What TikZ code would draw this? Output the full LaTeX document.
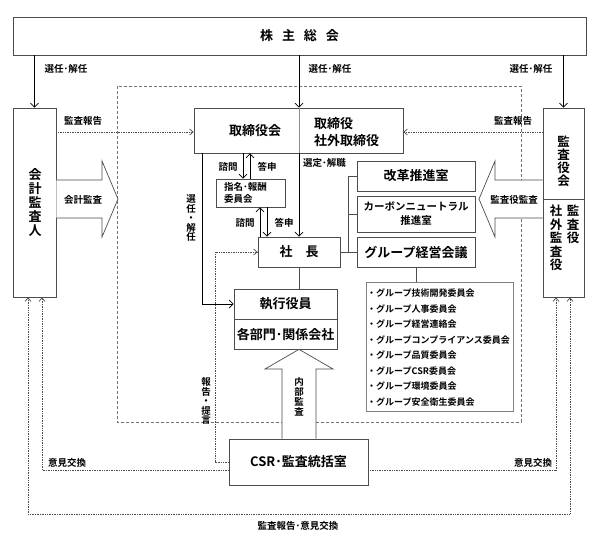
\documentclass[tikz,border=0pt]{standalone}
\usepackage{fontspec}
\setmainfont{Noto Sans CJK JP}[BoldFont={* Bold}]
\usetikzlibrary{arrows.meta}
\begin{document}
\begin{tikzpicture}[x=1pt,y=-1pt,
  box/.style={draw=black!70, line width=0.7pt, fill=white, inner sep=0pt, font=\fontsize{13}{15}\selectfont\bfseries},
  txt/.style={inner sep=0pt, font=\fontsize{13}{17}\selectfont\bfseries},
  lbl/.style={inner sep=0pt, font=\fontsize{9.5}{11}\selectfont\bfseries},
  vlbl/.style={inner sep=0pt, align=center, font=\fontsize{9.5}{9.5}\selectfont\bfseries},
  vt/.style={inner sep=0pt, align=center, font=\fontsize{13}{14}\selectfont\bfseries},
  conn/.style={draw=black!70, line width=0.7pt},
  arr/.style={line width=0.8pt, -{Straight Barb[length=4pt,width=8pt]}},
  dotarr/.style={densely dotted, line width=0.7pt, draw=black!70, -{Straight Barb[length=3.5pt,width=6pt]}},
  dotline/.style={densely dotted, line width=0.7pt, draw=black!70},
  bigarrow/.style={draw=black!70, line width=0.7pt, fill=white}
]
\useasboundingbox (0,0) rectangle (596,545);

% dashed frame
\draw[black!55, line width=0.7pt, dash pattern=on 3pt off 2pt] (117,86) rectangle (521,422);

% coordinates
\coordinate (stem) at (299,0);
\coordinate (cA) at (243,0);
\coordinate (cB) at (250,0);
\coordinate (cC) at (260,0);
\coordinate (cD) at (267,0);
\coordinate (c202) at (202,0);
\coordinate (br) at (348,0);
\coordinate (c132) at (0,132);
\coordinate (hb) at (215,462);
\coordinate (iBL) at (42,470);
\coordinate (iBR) at (556,470);
\coordinate (oBL) at (28,514);
\coordinate (oBR) at (570,514);

% nodes
\node[box, minimum width=573pt, minimum height=38pt] (kabu) at (299.5,36) {株\hspace{9pt}主\hspace{9pt}総\hspace{9pt}会};
\node[box, minimum width=43pt, minimum height=189pt] (kaikei) at (34.5,202.5) {};
\node[vt] (kaikeiT) at (35,202.5) {会\\計\\監\\査\\人};
\node[box, minimum width=41pt, minimum height=189pt] (kansa) at (563.5,202.5) {};
\draw[conn] (kansa.west |- 0,199) -- (kansa.east |- 0,199);
\node[vt, font=\fontsize{12.5}{13}\selectfont\bfseries] (kansaT) at (563.5,161) {監\\査\\役\\会};
\node[vt, anchor=north, font=\fontsize{12.5}{13.5}\selectfont\bfseries] (kansaA) at (573,205) {監\\査\\役};
\node[vt, anchor=north, font=\fontsize{12.5}{13.5}\selectfont\bfseries] (kansaB) at (556,205) {社\\外\\監\\査\\役};

\node[box, minimum width=209pt, minimum height=45pt] (torikai) at (298.5,130.5) {};
\draw[black!45, line width=0.6pt] (torikai.north -| stem) -- (torikai.south -| stem);
\node[txt] (torikaiT) at (255,131) {取締役会};
\node[txt, align=left, anchor=west] (torikaiR) at (314,132) {取締役\\社外取締役};

\node[box, minimum width=69pt, minimum height=28pt] (shimei) at (250.5,193) {};
\node[lbl, align=left, anchor=west, font=\fontsize{9.5}{11.5}\selectfont\bfseries] (shimeiT) at (224,193) {指名･報酬\\委員会};

\node[box, minimum width=82pt, minimum height=30pt] (shacho) at (299,252) {社　長};
\node[box, minimum width=118pt, minimum height=30pt] (kaikaku) at (416,176) {改革推進室};
\node[box, minimum width=118pt, minimum height=36pt, align=center, font=\fontsize{10.5}{14}\selectfont\bfseries] (carbon) at (416,214) {カーボンニュートラル\\推進室};
\node[box, minimum width=118pt, minimum height=30pt] (gkaigi) at (416,252) {グループ経営会議};

\node[box, minimum width=103pt, minimum height=30pt] (shikkoA) at (285.5,304) {執行役員};
\node[box, minimum width=103pt, minimum height=30pt] (shikkoB) at (285.5,334) {各部門･関係会社};

\node[draw=black!50, line width=0.6pt, minimum width=147pt, minimum height=129pt, inner sep=0pt] (list) at (439.5,346.5) {};
\node[inner sep=0pt, anchor=west, align=left, font=\fontsize{9}{15.5}\selectfont\bfseries] (listT) at (367,347.5)
 {・グループ技術開発委員会\\・グループ人事委員会\\・グループ経営連絡会\\・グループコンプライアンス委員会\\・グループ品質委員会\\・グループCSR委員会\\・グループ環境委員会\\・グループ安全衛生委員会};

\node[box, minimum width=139pt, minimum height=46pt] (csr) at (298.5,462) {CSR･監査統括室};

% top arrows
\draw[arr] (kabu.south -| kaikei.north) -- (kaikei.north);
\draw[arr] (kabu.south -| stem) -- (torikai.north -| stem);
\draw[arr] (kabu.south -| kansa.north) -- (kansa.north);
\node[lbl] (l1) at (66,69) {選任･解任};
\node[lbl] (l2) at (330,69) {選任･解任};
\node[lbl] (l3) at (531,69) {選任･解任};

% audit reports
\draw[dotarr] (kaikei.east |- c132) -- (torikai.west |- c132);
\draw[dotarr] (kansa.west |- c132) -- (torikai.east |- c132);
\node[lbl] (l4) at (83,121) {監査報告};
\node[lbl] (l5) at (513,121) {監査報告};

% 選定・解職
\draw[arr] (torikai.south -| stem) -- (shacho.north -| stem);
\node[lbl, anchor=west] (l6) at (303,163) {選定･解職};

% 諮問 / 答申
\draw[arr] (torikai.south -| cA) -- (shimei.north -| cA);
\draw[arr] (shimei.north -| cB) -- (torikai.south -| cB);
\node[lbl] (l7) at (228,167) {諮問};
\node[lbl] (l8) at (267,167) {答申};
\draw[arr] (shacho.north -| cC) -- (shimei.south -| cC);
\draw[arr] (shimei.south -| cD) -- (shacho.north -| cD);
\node[lbl] (l9) at (245,223) {諮問};
\node[lbl] (l10) at (284,223) {答申};

% 選任・解任 to 執行役員
\draw[arr] (torikai.south -| c202) |- (shikkoA.west);
\node[vlbl] (l11) at (191,218) {選\\任\\・\\解\\任};

% bracket
\draw[conn] (shacho.east) -- (gkaigi.west);
\draw[conn] (kaikaku.west -| br) -- (gkaigi.west -| br);
\draw[conn] (kaikaku.west -| br) -- (kaikaku.west);
\draw[conn] (carbon.west -| br) -- (carbon.west);
\draw[conn] (gkaigi.south) -- (list.north -| gkaigi.south);
\draw[conn] (shacho.south) -- (shikkoA.north -| shacho.south);

% 報告・提言
\draw[dotarr] (csr.west |- hb) -- (hb) |- (shacho.west);
\node[vlbl] (l12) at (206,401) {報\\告\\・\\提\\言};

% 意見交換
\draw[dotarr] (csr.west |- iBL) -- (iBL) -- (kaikei.south -| iBL);
\draw[dotarr] (csr.east |- iBR) -- (iBR) -- (kansa.south -| iBR);
\node[lbl] (l13) at (67,463) {意見交換};
\node[lbl] (l14) at (533,463) {意見交換};
\draw[dotline, {Straight Barb[length=3.5pt,width=6pt]}-{Straight Barb[length=3.5pt,width=6pt]}] (kaikei.south -| oBL) -- (oBL) -- (oBR) -- (kansa.south -| oBR);
\node[lbl] (l15) at (298,526) {監査報告･意見交換};

% big arrows
\draw[bigarrow] (kaikei.east |- 0,180) -- (102,180) -- (102,161) -- (118,199) -- (102,237) -- (102,218) -- (kaikei.east |- 0,218);
\node[lbl] (l16) at (83,200) {会計監査};
\draw[bigarrow] (kansa.west |- 0,180) -- (495,180) -- (495,161) -- (479,199) -- (495,237) -- (495,218) -- (kansa.west |- 0,218);
\node[lbl] (l17) at (514,200) {監査役監査};
\draw[bigarrow] (282,0 |- csr.north) -- (282,369) -- (265,369) -- (shikkoB.south -| stem) -- (333,369) -- (316,369) -- (316,0 |- csr.north);
\node[vlbl, font=\fontsize{9.5}{10}\selectfont\bfseries] (l18) at (299,397) {内\\部\\監\\査};
\end{tikzpicture}
\end{document}
